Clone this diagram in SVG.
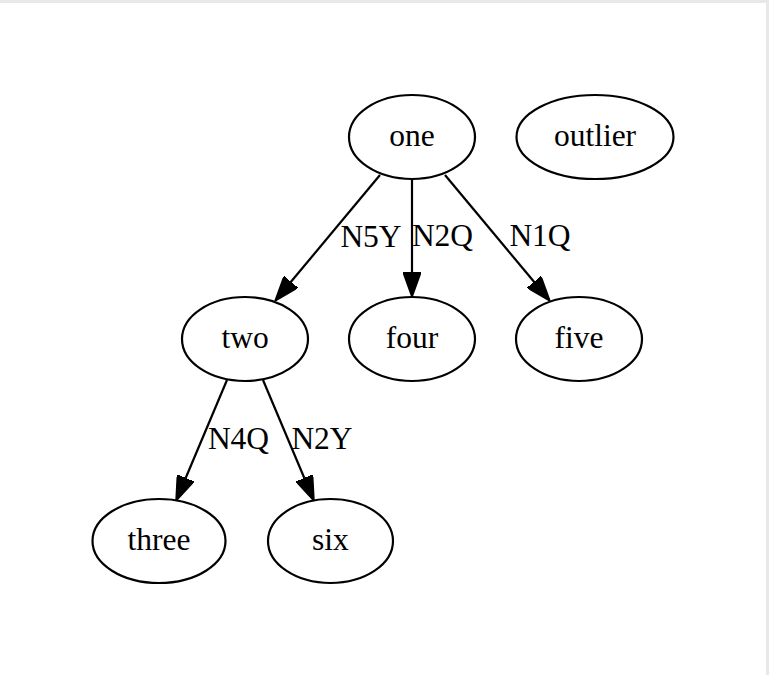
<svg xmlns="http://www.w3.org/2000/svg" width="769" height="675" viewBox="0 0 769 675">
<style>
.node ellipse{fill:none;stroke:#000;stroke-width:2.2}
text{font-family:"Liberation Serif","Times New Roman",serif;font-size:31.5px;fill:#000;text-anchor:middle}
.edge line{stroke:#000;stroke-width:2.2;marker-end:url(#ah)}
</style>
<defs>
<marker id="ah" viewBox="0 0 25 18" refX="0" refY="9" markerWidth="25" markerHeight="18" markerUnits="userSpaceOnUse" orient="auto">
<path d="M0,0 L25,9 L0,18 z" fill="#000" stroke="#000" stroke-width="1.5"/>
</marker>
</defs>
<rect x="0" y="0" width="769" height="675" fill="#fff"/>
<rect x="0" y="0" width="769" height="3" fill="#e8e8e8"/>
<rect x="766" y="0" width="3" height="675" fill="#e8e8e8"/>
<g id="edges" class="edge">
<line x1="380" y1="175" x2="291" y2="281.8"/>
<line x1="412" y1="179" x2="412" y2="272"/>
<line x1="445" y1="175" x2="534" y2="281.8"/>
<line x1="227" y1="380" x2="185.7" y2="478"/>
<line x1="263" y1="380" x2="304.3" y2="478"/>
<text x="371" y="247">N5Y</text>
<text x="442.5" y="246">N2Q</text>
<text x="540" y="246">N1Q</text>
<text x="238.5" y="449">N4Q</text>
<text x="322" y="449">N2Y</text>
</g>
<g id="one" class="node"><ellipse cx="412" cy="137" rx="63" ry="42"/><text x="412" y="146">one</text></g>
<g id="outlier" class="node"><ellipse cx="595" cy="137" rx="78.5" ry="42"/><text x="595" y="146">outlier</text></g>
<g id="two" class="node"><ellipse cx="245" cy="339" rx="63" ry="42"/><text x="245" y="348">two</text></g>
<g id="four" class="node"><ellipse cx="412" cy="339" rx="63" ry="42"/><text x="412" y="348">four</text></g>
<g id="five" class="node"><ellipse cx="579" cy="339" rx="63" ry="42"/><text x="579" y="348">five</text></g>
<g id="three" class="node"><ellipse cx="159" cy="541" rx="66.5" ry="42"/><text x="159" y="550">three</text></g>
<g id="six" class="node"><ellipse cx="330.5" cy="541" rx="62.5" ry="42"/><text x="330.5" y="550">six</text></g>
</svg>
